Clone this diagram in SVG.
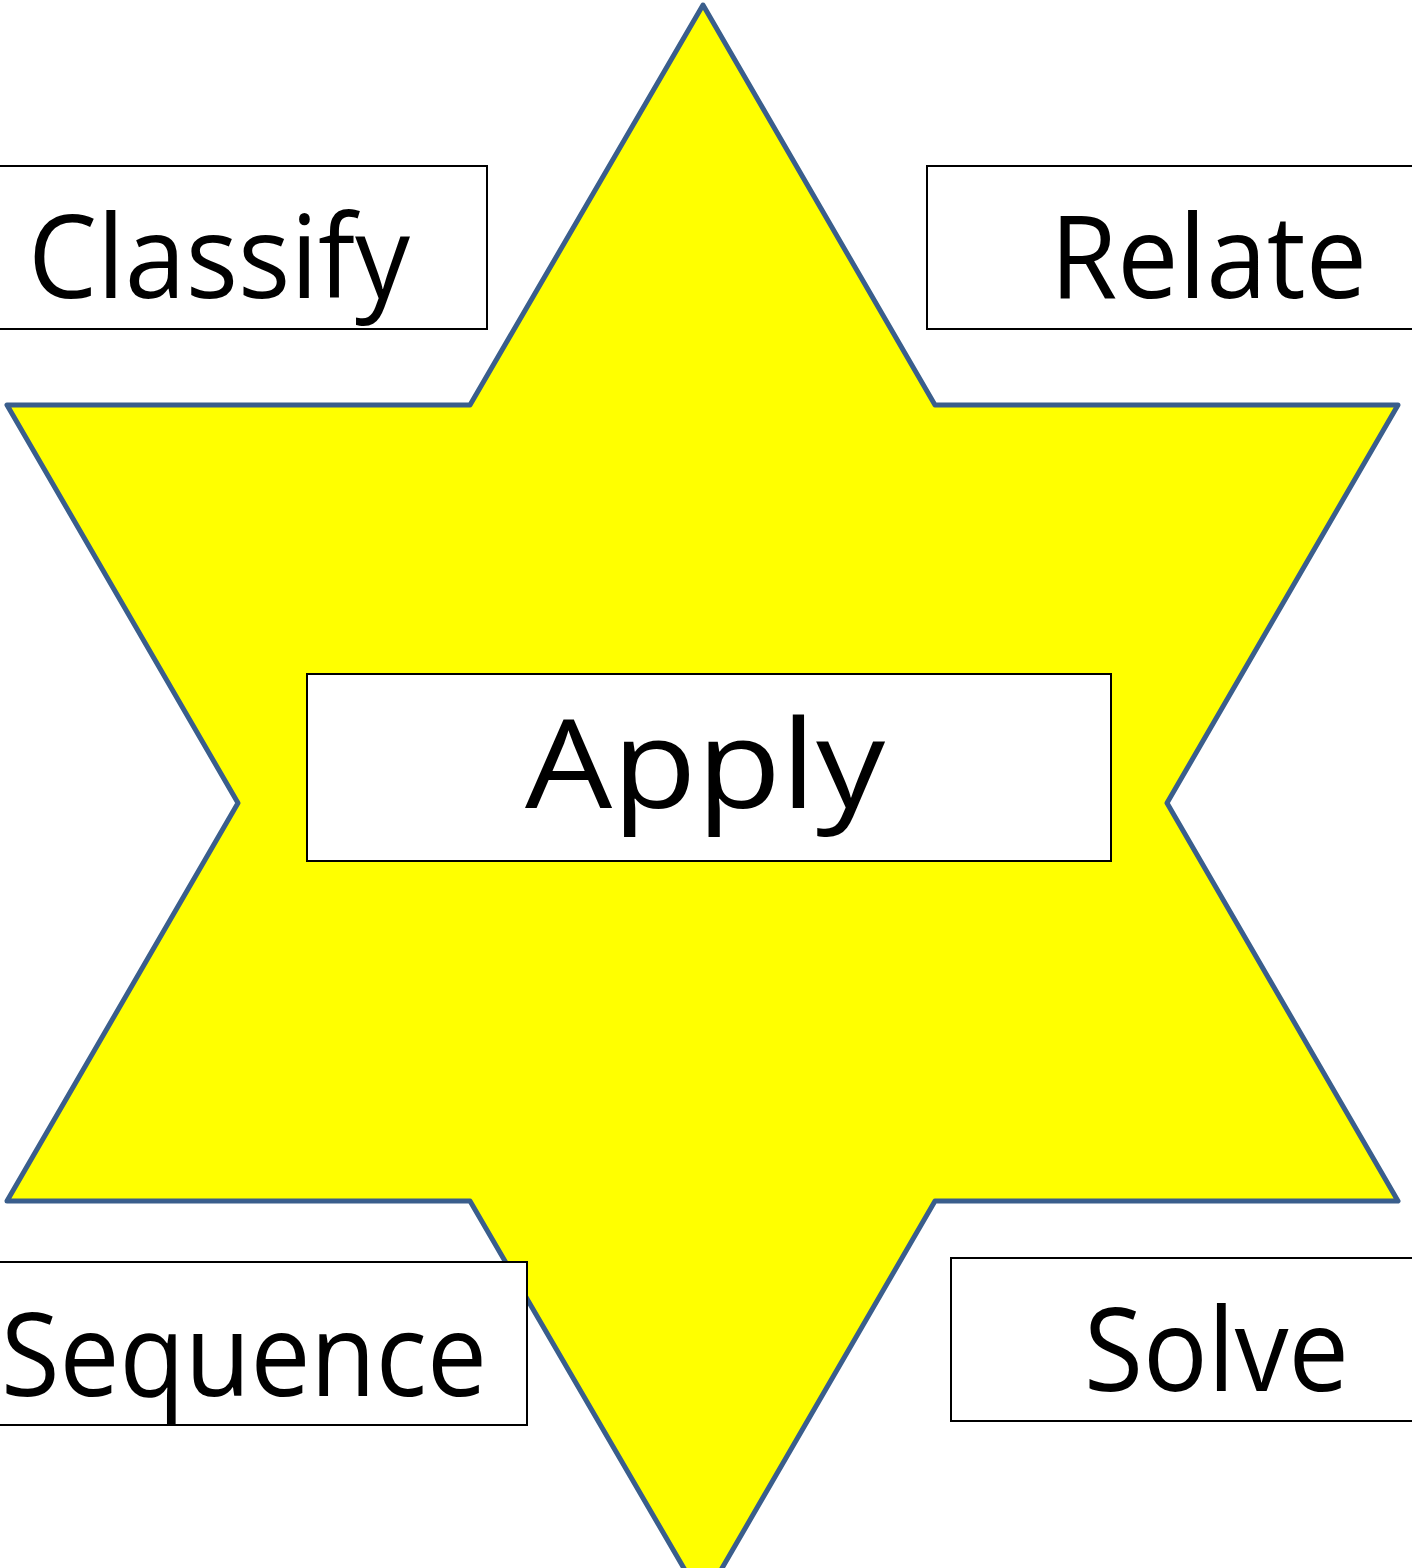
<svg xmlns="http://www.w3.org/2000/svg" width="1412" height="1568" viewBox="0 0 1412 1568">
<style>
.box{fill:#ffffff;stroke:#000000;stroke-width:2}
.lbl{font-family:"Open Sans","Liberation Sans",sans-serif;font-size:116px;fill:#000000}
.star{fill:#ffff00;stroke:#3a5e8c;stroke-width:5;stroke-linejoin:round}
</style>
<rect width="1412" height="1568" fill="#ffffff"/>
<g id="star">
<path class="star" d="M703,5 L935,405 L1398,405 L1167,803 L1398,1201 L935,1201 L703,1601 L470,1201 L7,1201 L238,803 L7,405 L470,405 Z"/>
</g>
<g id="connectors"></g>
<g id="classify">
<rect class="box" x="-10" y="166" width="497" height="163"/>
<text class="lbl" x="28" y="298" textLength="382" lengthAdjust="spacingAndGlyphs">Classify</text>
</g>
<g id="relate">
<rect class="box" x="927" y="166" width="500" height="163"/>
<text class="lbl" x="1050" y="298" textLength="317" lengthAdjust="spacingAndGlyphs">Relate</text>
</g>
<g id="sequence">
<rect class="box" x="-10" y="1262" width="537" height="163"/>
<text class="lbl" x="1" y="1396" textLength="486" lengthAdjust="spacingAndGlyphs">Sequence</text>
</g>
<g id="solve">
<rect class="box" x="951" y="1258" width="480" height="163"/>
<text class="lbl" x="1084" y="1391" textLength="265" lengthAdjust="spacingAndGlyphs">Solve</text>
</g>
<g id="apply">
<rect class="box" x="307" y="674" width="804" height="187"/>
<text class="lbl" x="525" y="808" textLength="360" lengthAdjust="spacingAndGlyphs" style="font-size:122px">Apply</text>
</g>
</svg>
